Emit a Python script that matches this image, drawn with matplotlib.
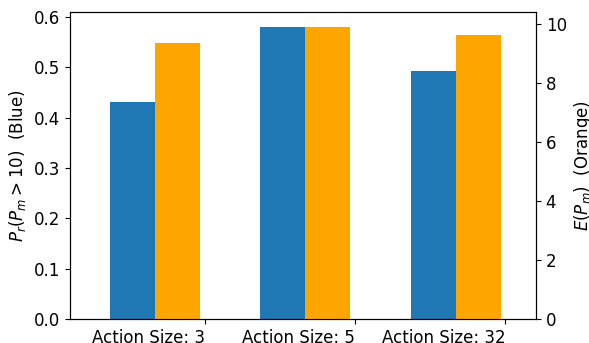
import numpy as np
import matplotlib.pyplot as plt

labels = ["Action Size: 3", "Action Size: 5", "Action Size: 32"]
prob_over_10 = [0.43, 0.58, 0.493]
expected_pm = [9.37, 9.91, 9.64]

x = np.arange(len(labels))
width = 0.3

fig, ax1 = plt.subplots(figsize=(5.89, 3.43), dpi=100)
fig.subplots_adjust(left=0.119, right=0.910, top=0.964, bottom=0.070)

ax1.bar(x, prob_over_10, width, color="tab:blue")
ax1.set_ylabel(r"$P_r(P_m > 10)$  (Blue)", fontsize=12)
ax1.tick_params(labelsize=12)

ax2 = ax1.twinx()
ax2.bar(x + width, expected_pm, width, color="orange")
ax2.set_ylabel(r"$E(P_m)$  (Orange)", fontsize=12)
ax2.tick_params(labelsize=12)

ax1.set_xticks(x + 0.48)
ax1.set_xticklabels(labels, ha="right")
ax1.set_xlim(-0.416, 2.685)

plt.savefig("out.png")
